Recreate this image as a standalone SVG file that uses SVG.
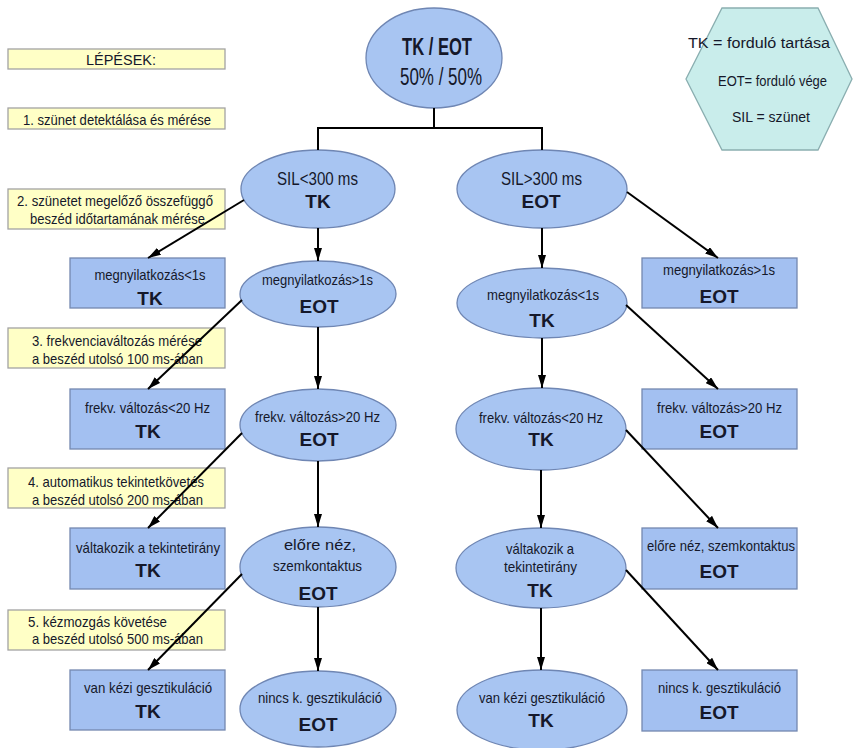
<svg xmlns="http://www.w3.org/2000/svg" width="856" height="748" viewBox="0 0 856 748">
<defs>
<style>
text{font-family:"Liberation Sans",Arial,sans-serif;fill:#15182a;text-anchor:middle}
.step rect{fill:#ffffc6;stroke:#a3a3a3;stroke-width:1.3}
.step text{font-size:15px}
.nbox rect{fill:#a3c0f1;stroke:#7488b0;stroke-width:1.3}
.nell ellipse{fill:#a8c5f2;stroke:#6f86b3;stroke-width:1.3}
.s{font-size:15px}
.b{font-size:19px;font-weight:bold}
.m{font-size:18px}
.hex polygon{fill:#c9edeb;stroke:#8aaeb0;stroke-width:1.3}
.hex text{font-size:14px}
#connectors path{fill:none;stroke:#000;stroke-width:2}
</style>
<marker id="ah" viewBox="0 0 13 8" refX="13" refY="4" markerWidth="13" markerHeight="8" markerUnits="userSpaceOnUse" orient="auto">
<path d="M0,0 L13,4 L0,8 Z" fill="#000"/>
</marker>
</defs>
<rect width="856" height="748" fill="#fff"/>

<g id="step0" class="step"><rect x="8" y="49" width="217" height="20"/><text x="121" y="65" textLength="70" lengthAdjust="spacingAndGlyphs">LÉPÉSEK:</text></g>
<g id="step1" class="step"><rect x="8" y="108" width="217" height="21"/><text x="117" y="125" textLength="188" lengthAdjust="spacingAndGlyphs">1. szünet detektálása és mérése</text></g>
<g id="step2" class="step"><rect x="8" y="189" width="217" height="40"/><text x="115" y="206" textLength="196" lengthAdjust="spacingAndGlyphs">2. szünetet megelőző összefüggő</text><text x="117.5" y="224" textLength="175" lengthAdjust="spacingAndGlyphs">beszéd időtartamának mérése</text></g>
<g id="step3" class="step"><rect x="8" y="328" width="217" height="40"/><text x="117" y="346" textLength="170" lengthAdjust="spacingAndGlyphs">3. frekvenciaváltozás mérése</text><text x="117.5" y="364" textLength="171" lengthAdjust="spacingAndGlyphs">a beszéd utolsó 100 ms-ában</text></g>
<g id="step4" class="step"><rect x="8" y="468" width="217" height="40"/><text x="116" y="487" textLength="176" lengthAdjust="spacingAndGlyphs">4. automatikus tekintetkövetés</text><text x="117.5" y="505" textLength="171" lengthAdjust="spacingAndGlyphs">a beszéd utolsó 200 ms-ában</text></g>
<g id="step5" class="step"><rect x="8" y="610" width="217" height="40"/><text x="28" y="627" style="text-anchor:start" textLength="139" lengthAdjust="spacingAndGlyphs">5. kézmozgás követése</text><text x="32" y="644" style="text-anchor:start" textLength="171" lengthAdjust="spacingAndGlyphs">a beszéd utolsó 500 ms-ában</text></g>

<g id="legend" class="hex"><polygon points="722,8 818,8 852,79 818,150 722,150 686,79"/>
<text x="759" y="48" textLength="142" lengthAdjust="spacingAndGlyphs">TK = forduló tartása</text>
<text x="772.5" y="86" textLength="109" lengthAdjust="spacingAndGlyphs">EOT= forduló vége</text>
<text x="771" y="122" textLength="78" lengthAdjust="spacingAndGlyphs">SIL = szünet</text></g>

<g id="root" class="nell"><ellipse cx="434" cy="58" rx="68" ry="50"/>
<text x="437" y="55" style="font-size:23px;font-weight:bold" textLength="70" lengthAdjust="spacingAndGlyphs">TK / EOT</text>
<text x="441" y="85" style="font-size:23px" textLength="82" lengthAdjust="spacingAndGlyphs">50% /  50%</text></g>

<g id="sil_lt" class="nell"><ellipse cx="318" cy="189" rx="77" ry="39"/>
<text class="m" x="317.5" y="185" textLength="81" lengthAdjust="spacingAndGlyphs">SIL&lt;300 ms</text><text class="b" x="318" y="208">TK</text></g>
<g id="sil_gt" class="nell"><ellipse cx="542" cy="189" rx="85" ry="39"/>
<text class="m" x="541.5" y="185" textLength="81" lengthAdjust="spacingAndGlyphs">SIL&gt;300 ms</text><text class="b" x="541" y="208">EOT</text></g>

<g id="l_megny_lt" class="nbox"><rect x="70" y="258" width="155" height="50"/>
<text class="s" x="150" y="280" textLength="111" lengthAdjust="spacingAndGlyphs">megnyilatkozás&lt;1s</text><text class="b" x="150" y="305">TK</text></g>
<g id="l_frekv_lt" class="nbox"><rect x="70" y="389" width="155" height="60"/>
<text class="s" x="147.5" y="413" textLength="125" lengthAdjust="spacingAndGlyphs">frekv. változás&lt;20 Hz</text><text class="b" x="148" y="438">TK</text></g>
<g id="l_valt" class="nbox"><rect x="70" y="528" width="155" height="61"/>
<text class="s" x="148" y="553" textLength="144" lengthAdjust="spacingAndGlyphs">váltakozik a tekintetirány</text><text class="b" x="148" y="577">TK</text></g>
<g id="l_van" class="nbox"><rect x="70" y="670" width="155" height="60"/>
<text class="s" x="148" y="693" textLength="128" lengthAdjust="spacingAndGlyphs">van kézi gesztikuláció</text><text class="b" x="148" y="718">TK</text></g>

<g id="l_megny_gt" class="nell"><ellipse cx="318" cy="294" rx="78" ry="33"/>
<text class="s" x="317.5" y="285" textLength="111" lengthAdjust="spacingAndGlyphs">megnyilatkozás&gt;1s</text><text class="b" x="319" y="313">EOT</text></g>
<g id="l_frekv_gt" class="nell"><ellipse cx="318" cy="425" rx="78" ry="36"/>
<text class="s" x="317.5" y="422" textLength="125" lengthAdjust="spacingAndGlyphs">frekv. változás&gt;20 Hz</text><text class="b" x="319" y="446">EOT</text></g>
<g id="l_elore" class="nell"><ellipse cx="318" cy="567" rx="78" ry="40"/>
<text class="s" x="320" y="550" textLength="72" lengthAdjust="spacingAndGlyphs">előre néz,</text>
<text class="s" x="317.5" y="571" textLength="89" lengthAdjust="spacingAndGlyphs">szemkontaktus</text><text class="b" x="318" y="600">EOT</text></g>
<g id="l_nincs" class="nell"><ellipse cx="318" cy="709" rx="78" ry="38"/>
<text class="s" x="320" y="703" textLength="124" lengthAdjust="spacingAndGlyphs">nincs k. gesztikuláció</text><text class="b" x="318" y="731">EOT</text></g>

<g id="r_megny_lt" class="nell"><ellipse cx="542" cy="303" rx="85" ry="35"/>
<text class="s" x="543" y="300" textLength="112" lengthAdjust="spacingAndGlyphs">megnyilatkozás&lt;1s</text><text class="b" x="542" y="327">TK</text></g>
<g id="r_frekv_lt" class="nell"><ellipse cx="541" cy="429" rx="85" ry="41"/>
<text class="s" x="541" y="423" textLength="124" lengthAdjust="spacingAndGlyphs">frekv. változás&lt;20 Hz</text><text class="b" x="541" y="446">TK</text></g>
<g id="r_valt" class="nell"><ellipse cx="541" cy="568" rx="85" ry="40"/>
<text class="s" x="540" y="554" textLength="68" lengthAdjust="spacingAndGlyphs">váltakozik a</text>
<text class="s" x="540.5" y="572" textLength="73" lengthAdjust="spacingAndGlyphs">tekintetirány</text><text class="b" x="540" y="597">TK</text></g>
<g id="r_van" class="nell"><ellipse cx="542" cy="710" rx="85" ry="40"/>
<text class="s" x="542" y="703" textLength="126" lengthAdjust="spacingAndGlyphs">van kézi gesztikuláció</text><text class="b" x="541" y="727">TK</text></g>

<g id="r_megny_gt" class="nbox"><rect x="642" y="258" width="155" height="50"/>
<text class="s" x="719" y="275" textLength="112" lengthAdjust="spacingAndGlyphs">megnyilatkozás&gt;1s</text><text class="b" x="719" y="303">EOT</text></g>
<g id="r_frekv_gt" class="nbox"><rect x="642" y="389" width="155" height="60"/>
<text class="s" x="719.5" y="413" textLength="125" lengthAdjust="spacingAndGlyphs">frekv. változás&gt;20 Hz</text><text class="b" x="719" y="438">EOT</text></g>
<g id="r_elore" class="nbox"><rect x="642" y="528" width="155" height="61"/>
<text class="s" x="721" y="551" textLength="148" lengthAdjust="spacingAndGlyphs">előre néz, szemkontaktus</text><text class="b" x="719" y="578">EOT</text></g>
<g id="r_nincs" class="nbox"><rect x="642" y="670" width="155" height="61"/>
<text class="s" x="719.5" y="693" textLength="123" lengthAdjust="spacingAndGlyphs">nincs k. gesztikuláció</text><text class="b" x="719" y="719">EOT</text></g>

<g id="connectors">
<path d="M434,108 V128 M318,150 V128 H542 V150"/>
<path d="M244,200 L148,258" marker-end="url(#ah)"/>
<path d="M318,228 V261" marker-end="url(#ah)"/>
<path d="M242,300 L148,389" marker-end="url(#ah)"/>
<path d="M318,327 V389" marker-end="url(#ah)"/>
<path d="M242,433 L148,528" marker-end="url(#ah)"/>
<path d="M318,461 V527" marker-end="url(#ah)"/>
<path d="M242,574 L148,670" marker-end="url(#ah)"/>
<path d="M318,607 V671" marker-end="url(#ah)"/>
<path d="M627,192 L718,258" marker-end="url(#ah)"/>
<path d="M542,228 V268" marker-end="url(#ah)"/>
<path d="M626,305 L718,389" marker-end="url(#ah)"/>
<path d="M542,338 V388" marker-end="url(#ah)"/>
<path d="M626,430 L718,528" marker-end="url(#ah)"/>
<path d="M541,470 V528" marker-end="url(#ah)"/>
<path d="M626,570 L718,670" marker-end="url(#ah)"/>
<path d="M541,608 V670" marker-end="url(#ah)"/>
</g>
</svg>
